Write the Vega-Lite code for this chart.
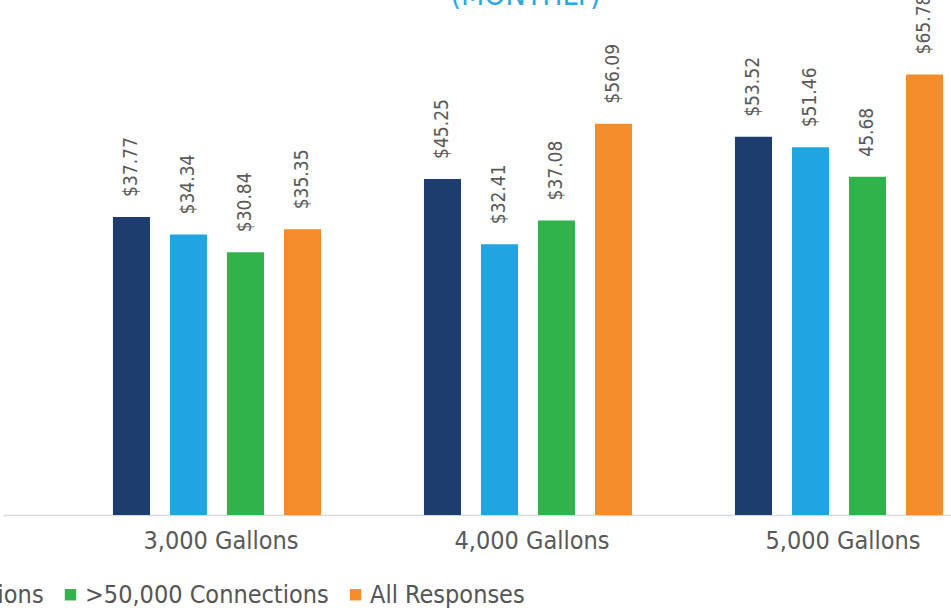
{
  "$schema": "https://vega.github.io/schema/vega-lite/v6.json",
  "width": 951,
  "height": 515,
  "padding": {"left": 0, "top": 0, "right": 0, "bottom": 95},
  "autosize": {"type": "none"},
  "background": "white",
  "title": {
    "text": "(MONTHLY)",
    "color": "#29a9e0",
    "fontSize": 30,
    "font": "Liberation Sans Narrow, DejaVu Sans Condensed, Roboto",
    "fontWeight": "normal",
    "offset": -11,
    "dx": 50,
    "anchor": "middle",
    "frame": "group"
  },
  "data": {
    "values": [
      {"usage": "3,000 Gallons", "group": "<10,000 Connections", "value": 37.77, "label": "$37.77"},
      {"usage": "3,000 Gallons", "group": "10,000-50,000 Connections", "value": 34.34, "label": "$34.34"},
      {"usage": "3,000 Gallons", "group": ">50,000 Connections", "value": 30.84, "label": "$30.84"},
      {"usage": "3,000 Gallons", "group": "All Responses", "value": 35.35, "label": "$35.35"},
      {"usage": "4,000 Gallons", "group": "<10,000 Connections", "value": 45.25, "label": "$45.25"},
      {"usage": "4,000 Gallons", "group": "10,000-50,000 Connections", "value": 32.41, "label": "$32.41"},
      {"usage": "4,000 Gallons", "group": ">50,000 Connections", "value": 37.08, "label": "$37.08"},
      {"usage": "4,000 Gallons", "group": "All Responses", "value": 56.09, "label": "$56.09"},
      {"usage": "5,000 Gallons", "group": "<10,000 Connections", "value": 53.52, "label": "$53.52"},
      {"usage": "5,000 Gallons", "group": "10,000-50,000 Connections", "value": 51.46, "label": "$51.46"},
      {"usage": "5,000 Gallons", "group": ">50,000 Connections", "value": 45.68, "label": "45.68"},
      {"usage": "5,000 Gallons", "group": "All Responses", "value": 65.78, "label": "$65.78"}
    ]
  },
  "encoding": {
    "x": {
      "field": "usage",
      "type": "nominal",
      "sort": null,
      "scale": {"range": [3, 994.5], "paddingInner": 0, "paddingOuter": 0.094, "align": 1},
      "axis": {
        "title": null,
        "labelAngle": 0,
        "ticks": false,
        "domainColor": "#d9d9d9",
        "domainWidth": 1.5,
        "labelFontSize": 25,
        "labelFont": "Liberation Sans Narrow, DejaVu Sans Condensed, Roboto",
        "labelColor": "#595959",
        "labelPadding": 13,
        "labelOffset": 4
      }
    },
    "xOffset": {
      "field": "group",
      "type": "nominal",
      "sort": ["<10,000 Connections", "10,000-50,000 Connections", ">50,000 Connections", "All Responses"],
      "scale": {"paddingInner": 0.35, "paddingOuter": 0.903}
    },
    "y": {
      "field": "value",
      "type": "quantitative",
      "scale": {"domain": [-20.8, 80.4], "zero": false, "nice": false},
      "axis": null
    }
  },
  "layer": [
    {
      "mark": {"type": "bar"},
      "encoding": {
        "y2": {"datum": -20.8},
        "color": {
          "field": "group",
          "type": "nominal",
          "scale": {
            "domain": ["<10,000 Connections", "10,000-50,000 Connections", ">50,000 Connections", "All Responses"],
            "range": ["#1c3d6e", "#21a5e0", "#2fb34a", "#f58c2c"]
          },
          "legend": {
            "orient": "none",
            "legendX": -580,
            "legendY": 582,
            "direction": "horizontal",
            "title": null,
            "symbolType": "square",
            "symbolSize": 130,
            "symbolStrokeWidth": 0,
            "labelFontSize": 25,
            "labelFont": "Liberation Sans Narrow, DejaVu Sans Condensed, Roboto",
            "labelColor": "#555555",
            "labelOffset": 2,
            "columnPadding": 14,
            "labelLimit": 400
          }
        }
      }
    },
    {
      "mark": {
        "type": "text",
        "angle": -90,
        "align": "left",
        "baseline": "middle",
        "dx": 20,
        "fontSize": 19,
        "clip": true,
        "font": "Liberation Sans Narrow, DejaVu Sans Condensed, Roboto",
        "color": "#595959"
      },
      "encoding": {"text": {"field": "label"}}
    }
  ],
  "config": {"view": {"stroke": null}}
}
